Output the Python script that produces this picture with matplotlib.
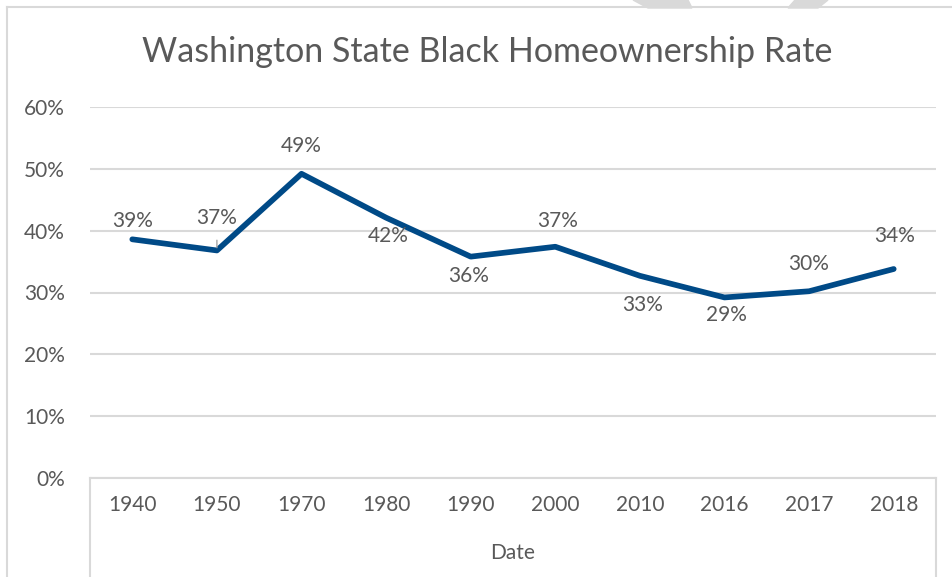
import matplotlib.pyplot as plt
from matplotlib.lines import Line2D
from matplotlib.patches import Polygon

years = ['1940', '1950', '1970', '1980', '1990', '2000', '2010', '2016', '2017', '2018']
rate = [0.386, 0.368, 0.492, 0.421, 0.358, 0.374, 0.327, 0.292, 0.302, 0.338]

# where each value label sits relative to its point (pixels)
label_off = [(0, 18), (0, 32), (0, 28), (2, -18), (-2, -19), (2, 26), (3, -29), (2, -18), (-1, 27), (1, 33)]

W, H = 952, 577
grey_txt = '#595959'
grid_col = '#d9d9d9'
blue = '#004a87'
plt.rcParams['font.family'] = ['Lato', 'DejaVu Sans']

fig = plt.figure(figsize=(W / 100, H / 100), dpi=100)

def fx(px):
    return px / W

def fy(py):
    return 1 - py / H

# faint marks along the top edge
for pts in ([(633, 0), (688, 0), (692, 8), (648, 8)],
            [(795, 0), (828, 0), (818, 8), (788, 8)]):
    fig.patches.append(Polygon([(fx(x), fy(y)) for x, y in pts], closed=True,
                               transform=fig.transFigure, color='#d9d9d9', zorder=0))

# chart border
fig.add_artist(Line2D([fx(7), fx(7)], [fy(7), 0], color=grid_col, lw=1.5, transform=fig.transFigure))
fig.add_artist(Line2D([fx(7), 1], [fy(7), fy(7)], color=grid_col, lw=1.5, transform=fig.transFigure))

ax = fig.add_axes([fx(90), fy(478), fx(936) - fx(90), fy(107) - fy(478)])
x = list(range(len(years)))
ax.plot(x, rate, color=blue, lw=4.1, solid_capstyle='round', solid_joinstyle='round', zorder=3)

ax.set_xlim(-0.5, len(years) - 0.5)
ax.set_ylim(0, 0.6)
ax.set_yticks([0, 0.1, 0.2, 0.3, 0.4, 0.5, 0.6])
ax.set_yticklabels([f'{int(round(v * 100))}%' for v in ax.get_yticks()])
ax.grid(axis='y', color=grid_col, lw=1.5)
ax.set_axisbelow(True)
for s in ax.spines.values():
    s.set_visible(False)
ax.tick_params(axis='y', length=0, pad=18, labelsize=15, labelcolor=grey_txt)
ax.set_xticks(x)
ax.set_xticklabels(years)
ax.tick_params(axis='x', length=0, pad=12, labelsize=15, labelcolor=grey_txt)

for i, (v, (dx, dy)) in enumerate(zip(rate, label_off)):
    ax.annotate(f'{v * 100:.0f}%', (i, v), xytext=(dx, dy), textcoords='offset pixels',
                ha='center', va='center', fontsize=15, color=grey_txt, zorder=4)

# leader line for the 1950 label
ax.annotate('', (1, rate[1]), xytext=(0, 13), textcoords='offset pixels',
            arrowprops=dict(arrowstyle='-', color='#a6a6a6', lw=1))

# category axis box below the plot
for px in (90, 936):
    fig.add_artist(Line2D([fx(px), fx(px)], [fy(478), 0], color=grid_col, lw=1.5, transform=fig.transFigure))
fig.add_artist(Line2D([fx(90), fx(936)], [fy(478), fy(478)], color=grid_col, lw=1.5, transform=fig.transFigure))

fig.text(fx(513), fy(553), 'Date', ha='center', va='center', fontsize=15, color=grey_txt)
fig.text(fx(487), fy(52), 'Washington State Black Homeownership Rate', ha='center', va='center',
         fontsize=24.5, color=grey_txt)

fig.savefig('out.png', dpi=100)
